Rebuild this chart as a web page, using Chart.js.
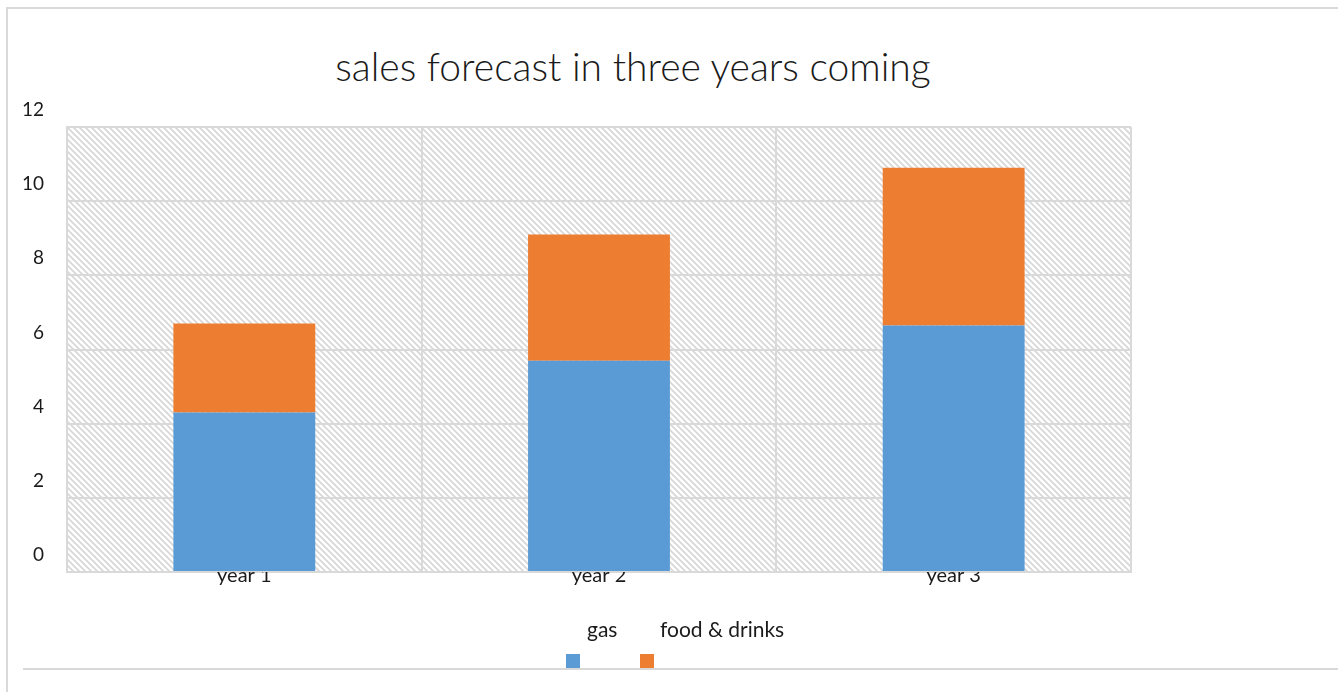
<!DOCTYPE html>
<html>
<head>
<meta charset="utf-8">
<script src="https://cdn.jsdelivr.net/npm/chart.js@4"></script>
<style>
  html, body { margin: 0; padding: 0; background: #fff; }
  #wrap { position: relative; width: 1338px; height: 692px; overflow: hidden; font-family: Lato, 'Open Sans', sans-serif; }
  #frame { position: absolute; left: 6px; top: 7px; width: 1400px; height: 800px; border-left: 2px solid #d9d9d9; border-top: 2px solid #d9d9d9; }
  #baseLine { position: absolute; left: 23px; top: 668px; width: 1320px; height: 2px; background: #d9d9d9; }
  #title { position: absolute; left: 0; top: 43px; width: 1266px; text-align: center; font-size: 39px; font-weight: 300; color: #1a1a1a; }
  #legend { position: absolute; left: 0; top: 0; }
  .lg-text { position: absolute; font-size: 21px; color: #1a1a1a; white-space: nowrap; }
  .lg-box { position: absolute; width: 14px; height: 14px; }
  canvas { position: absolute; left: 0; top: 0; }
</style>
</head>
<body>
<div id="wrap">
  <div id="frame"></div>
  <div id="baseLine"></div>
  <div id="title">sales forecast in three years coming</div>
  <canvas id="salesChart" width="1338" height="692"></canvas>
  <div id="legend"></div>
</div>
<script>
var years = ['year 1', 'year 2', 'year 3'];
var gas = [4.3, 5.7, 6.65];
var foodDrinks = [2.4, 3.4, 4.25];
var yTicks = [0, 2, 4, 6, 8, 10, 12];

var ctx = document.getElementById('salesChart');

// diagonal hatch for the plot background
function makeHatch(){
    let s = 6;
    let c = document.createElement('canvas');
    c.width = s; c.height = s;
    let g = c.getContext('2d');
    g.fillStyle = '#ffffff';
    g.fillRect(0, 0, s, s);
    g.strokeStyle = '#d6d6d6';
    g.lineWidth = 1.6;
    g.beginPath();
    g.moveTo(-1, -1); g.lineTo(s + 1, s + 1);
    g.moveTo(-1, s - 1); g.lineTo(1, s + 1);
    g.moveTo(s - 1, -1); g.lineTo(s + 1, 1);
    g.stroke();
    return g.createPattern(c, 'repeat');
}

var hatchBackground = {
    id: 'hatchBackground',
    beforeDraw: function(chart){
        let a = chart.chartArea;
        let g = chart.ctx;
        g.save();
        g.fillStyle = makeHatch();
        g.fillRect(a.left, a.top, a.right - a.left, a.bottom - a.top);
        g.restore();
    }
};

var chart = new Chart(ctx, {
  type: 'bar',
  data: {
    labels: years,
    datasets: [{
        label: 'gas',
        data: gas,
        backgroundColor: '#5B9BD5',
        borderWidth: 0
    },{
        label: 'food & drinks',
        data: foodDrinks,
        backgroundColor: '#ED7D31',
        borderWidth: 0
    }]
  },
  options: {
    responsive: false,
    animation: false,
    layout: {
        padding: { top: 127, right: 207, bottom: 90, left: 0 }
    },
    datasets: {
        bar: { barPercentage: 0.4, categoryPercentage: 1.0 }
    },
    plugins: {
        legend: { display: false },
        title: { display: false },
        tooltip: { enabled: false }
    },
    scales: {
        x: {
            stacked: true,
            afterFit: function(scale){ scale.height = 30; },
            grid: { color: '#d9d9d9', lineWidth: 2, drawTicks: false, offset: true },
            border: { color: '#d9d9d9', width: 2 },
            ticks: {
                padding: -8,
                color: '#1a1a1a',
                font: { family: 'Lato', size: 20 }
            }
        },
        y: {
            stacked: true,
            min: 0,
            max: 12,
            afterFit: function(scale){ scale.width = 67; },
            afterBuildTicks: function(scale){
                scale.ticks = yTicks.map(function(v){ return { value: v }; });
            },
            grid: { color: '#d9d9d9', lineWidth: 2, drawTicks: false },
            border: { color: '#d9d9d9', width: 2 },
            ticks: {
                padding: 23,
                labelOffset: -17,
                color: '#1a1a1a',
                font: { family: 'Lato', size: 19 }
            }
        }
    }
  },
  plugins: [hatchBackground]
});

// legend: label text sits above its swatch
function buildLegend(){
    let box = document.getElementById('legend');
    let slots = [{ text: 587, sw: 566 }, { text: 660, sw: 640 }];
    chart.data.datasets.forEach(function(ds, i){
        let t = document.createElement('div');
        t.className = 'lg-text';
        t.textContent = ds.label;
        t.style.left = slots[i].text + 'px';
        t.style.top = '616px';
        box.appendChild(t);
        let b = document.createElement('div');
        b.className = 'lg-box';
        b.style.background = ds.backgroundColor;
        b.style.left = slots[i].sw + 'px';
        b.style.top = '654px';
        box.appendChild(b);
    });
}
buildLegend();
</script>
</body>
</html>
